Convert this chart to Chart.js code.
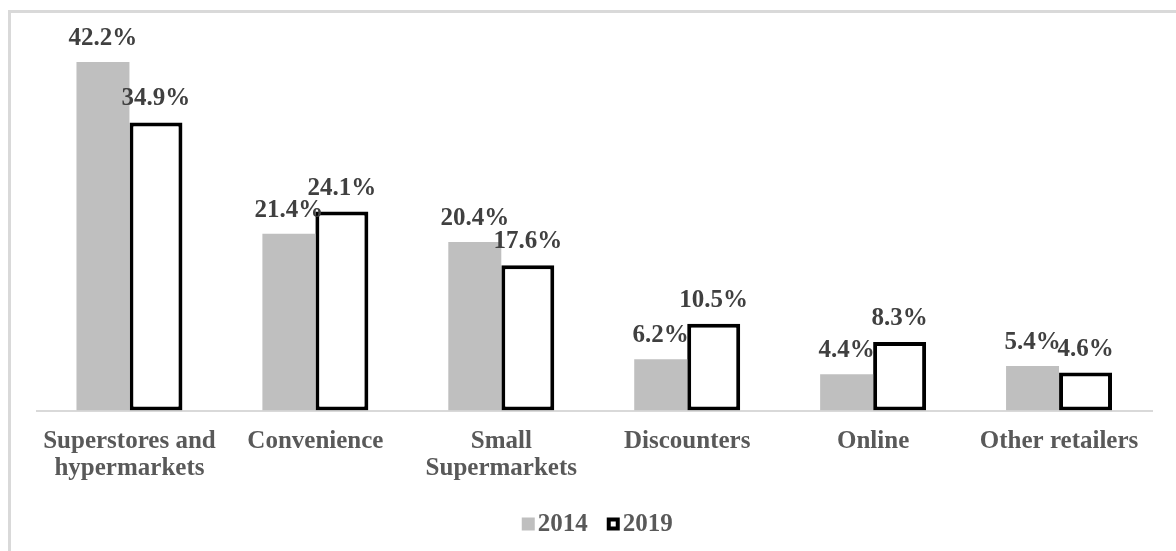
<!DOCTYPE html>
<html>
<head>
<meta charset="utf-8">
<script src="https://cdn.jsdelivr.net/npm/chart.js@4.4.1/dist/chart.umd.min.js"></script>
<style>
  html, body { margin: 0; padding: 0; background: #fff; }
  #wrap { position: relative; width: 1176px; height: 551px; overflow: hidden; }
  #frame { position: absolute; left: 8px; top: 10px; width: 1300px; height: 700px;
           border-left: 3px solid #d9d9d9; border-top: 3px solid #d9d9d9; }
  #c { position: absolute; left: 0; top: 0; }
</style>
</head>
<body>
<div id="wrap">
  <div id="frame"></div>
  <canvas id="c" width="1176" height="551"></canvas>
</div>
<script>
// Market share by grocery channel (%)
const categories = [
  ['Superstores and', 'hypermarkets'],
  'Convenience',
  ['Small', 'Supermarkets'],
  'Discounters',
  'Online',
  'Other retailers'
];
const seriesNames = ['2014', '2019'];
const share2014 = [42.2, 21.4, 20.4, 6.2, 4.4, 5.4];
const share2019 = [34.9, 24.1, 17.6, 10.5, 8.3, 4.6];

const SERIF = "'Liberation Serif', 'Times New Roman', serif";

// Percentage labels above each bar
const valueLabels = {
  id: 'valueLabels',
  afterDatasetsDraw(chart) {
    const ctx = chart.ctx;
    ctx.save();
    ctx.font = 'bold 25px ' + SERIF;
    ctx.fillStyle = '#404040';
    ctx.textAlign = 'center';
    ctx.textBaseline = 'alphabetic';
    chart.data.datasets.forEach((ds, i) => {
      chart.getDatasetMeta(i).data.forEach((bar, j) => {
        ctx.fillText(ds.data[j].toFixed(1) + '%', bar.x, bar.y - 17);
      });
    });
    ctx.restore();
  }
};

// Compact legend row under the axis labels
const legendRow = {
  id: 'legendRow',
  afterDraw(chart) {
    const ctx = chart.ctx;
    const area = chart.chartArea;
    ctx.save();
    ctx.font = 'bold 25px ' + SERIF;
    const box = 13, gapText = 3, gapItems = 19;
    const items = chart.data.datasets.map(ds => ({ ds, w: ctx.measureText(ds.label).width }));
    const total = items.reduce((s, it) => s + box + gapText + it.w, 0) + gapItems * (items.length - 1);
    let x = (area.left + area.right) / 2 - total / 2 + 3;
    const boxTop = area.bottom + 107;
    const baseline = area.bottom + 120.5;
    items.forEach(it => {
      const ds = it.ds;
      if (ds.borderWidth) {
        ctx.fillStyle = ds.borderColor;
        ctx.fillRect(x, boxTop, box, box);
        ctx.fillStyle = ds.backgroundColor;
        ctx.fillRect(x + 4, boxTop + 4, box - 8, box - 8);
      } else {
        ctx.fillStyle = ds.backgroundColor;
        ctx.fillRect(x, boxTop, box, box);
      }
      x += box + gapText;
      ctx.fillStyle = '#595959';
      ctx.textAlign = 'left';
      ctx.textBaseline = 'alphabetic';
      ctx.fillText(ds.label, x, baseline);
      x += it.w + gapItems;
    });
    ctx.restore();
  }
};

new Chart(document.getElementById('c'), {
  type: 'bar',
  data: {
    labels: categories,
    datasets: [
      {
        label: seriesNames[0],
        data: share2014,
        backgroundColor: '#bfbfbf',
        borderWidth: 0
      },
      {
        label: seriesNames[1],
        data: share2019,
        backgroundColor: '#ffffff',
        borderColor: '#000000',
        borderWidth: 4,
        borderSkipped: false
      }
    ]
  },
  options: {
    responsive: false,
    animation: false,
    devicePixelRatio: 1,
    categoryPercentage: 0.57,
    barPercentage: 1.0,
    layout: { padding: { left: 36.5, right: 24, top: 39, bottom: 68.5 } },
    plugins: {
      legend: { display: false },
      tooltip: { enabled: false }
    },
    scales: {
      x: {
        grid: { display: false, drawTicks: false },
        border: { display: true, color: '#d9d9d9', width: 2 },
        ticks: {
          padding: 18,
          color: '#595959',
          maxRotation: 0,
          autoSkip: false,
          font: { family: SERIF, size: 25, weight: 'bold', lineHeight: 1.08 }
        },
        afterFit(scale) { scale.height = 72; }
      },
      y: {
        display: false,
        min: 0,
        max: 45
      }
    }
  },
  plugins: [valueLabels, legendRow]
});
</script>
</body>
</html>
